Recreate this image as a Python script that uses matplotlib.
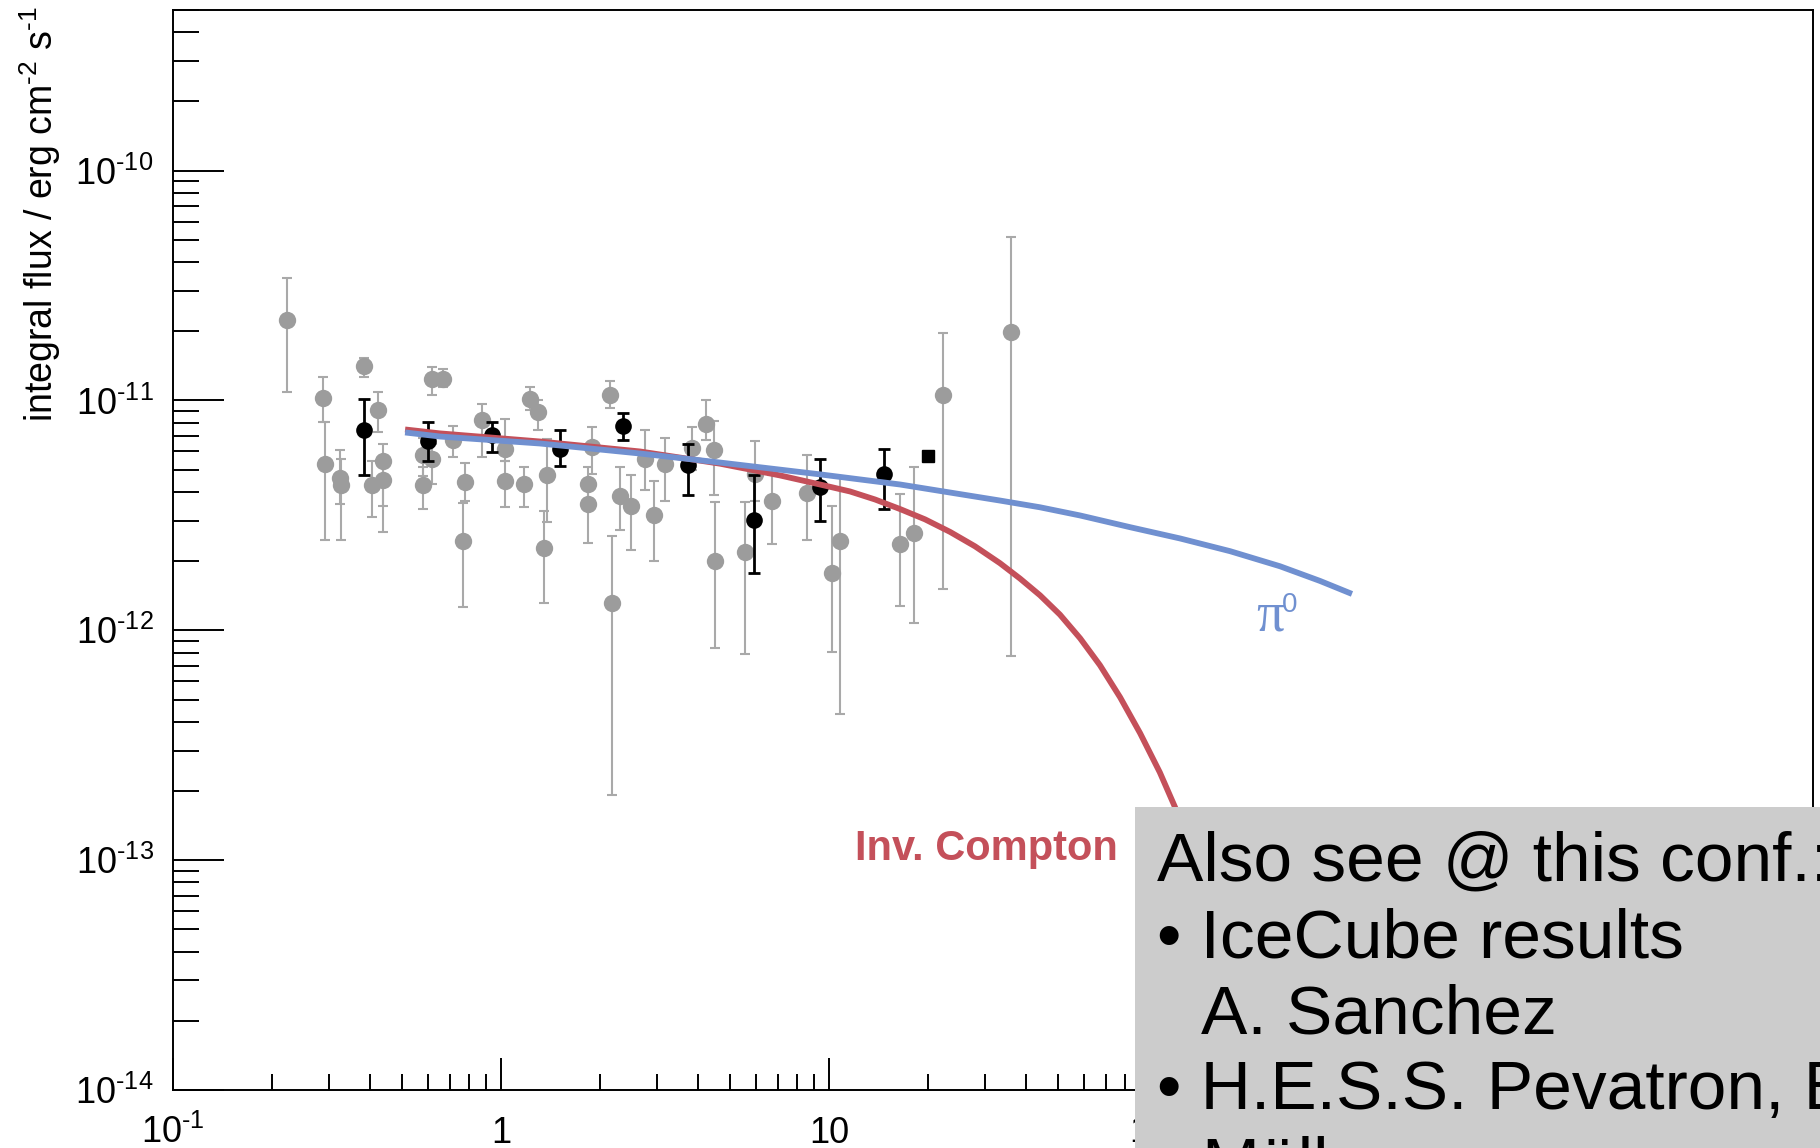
import numpy as np
import matplotlib
matplotlib.use('Agg')
import matplotlib.pyplot as plt
from matplotlib.patches import Rectangle
from matplotlib.ticker import FixedLocator, FixedFormatter, NullFormatter

plt.rcParams['font.family'] = 'Liberation Sans'
plt.rcParams['mathtext.fontset'] = 'custom'
plt.rcParams['mathtext.rm'] = 'Liberation Sans'
plt.rcParams['mathtext.it'] = 'Liberation Sans:italic'
plt.rcParams['mathtext.bf'] = 'Liberation Sans:bold'

# grey points: energy (GeV), integral flux, lower / upper end of the error bar
grey_e = [0.223, 0.287, 0.291, 0.323, 0.325, 0.382, 0.423, 0.438, 0.404, 0.438,
          0.615, 0.667, 0.580, 0.615, 0.577, 0.715, 0.777, 0.768, 0.874, 1.03,
          1.03, 1.175, 1.226, 1.30, 1.384, 1.352, 1.846, 1.846, 1.890, 2.149,
          2.306, 2.485, 2.175, 2.748, 2.934, 3.162, 3.814, 4.217, 4.461, 4.492,
          5.544, 5.948, 6.688, 8.588, 10.19, 10.80, 16.47, 18.20, 22.31, 35.81]
grey_f = [2.23e-11, 1.03e-11, 5.27e-12, 4.62e-12, 4.27e-12, 1.41e-11, 9.11e-12, 5.48e-12, 4.27e-12, 4.49e-12,
          1.24e-11, 1.24e-11, 5.77e-12, 5.58e-12, 4.27e-12, 6.70e-12, 4.41e-12, 2.44e-12, 8.24e-12, 6.17e-12,
          4.46e-12, 4.34e-12, 1.02e-11, 8.89e-12, 4.72e-12, 2.27e-12, 4.31e-12, 3.56e-12, 6.27e-12, 1.06e-11,
          3.86e-12, 3.49e-12, 1.31e-12, 5.58e-12, 3.19e-12, 5.27e-12, 6.23e-12, 7.92e-12, 6.11e-12, 2.01e-12,
          2.19e-12, 4.77e-12, 3.67e-12, 3.94e-12, 1.77e-12, 2.44e-12, 2.37e-12, 2.65e-12, 1.06e-11, 1.98e-11]
grey_lo = [1.09e-11, 8.04e-12, 2.48e-12, 3.56e-12, 2.48e-12, 1.26e-11, 7.28e-12, 3.49e-12, 3.11e-12, 2.68e-12,
           1.06e-11, 1.14e-11, 4.67e-12, 4.35e-12, 3.38e-12, 5.67e-12, 3.67e-12, 1.26e-12, 5.67e-12, 5.48e-12,
           3.44e-12, 3.44e-12, 9.05e-12, 7.41e-12, 2.96e-12, 1.31e-12, 3.67e-12, 2.41e-12, 4.80e-12, 9.30e-12,
           2.72e-12, 2.23e-12, 1.92e-13, 4.09e-12, 2.01e-12, 3.67e-12, 4.96e-12, 6.70e-12, 3.89e-12, 8.41e-13,
           7.92e-13, 3.67e-12, 2.37e-12, 2.48e-12, 8.04e-13, 4.31e-13, 1.28e-12, 1.08e-12, 1.52e-12, 7.71e-13]
grey_hi = [3.42e-11, 1.26e-11, 8.04e-12, 6.06e-12, 5.54e-12, 1.53e-11, 1.09e-11, 6.48e-12, 5.45e-12, 5.32e-12,
           1.40e-11, 1.37e-11, 6.84e-12, 6.48e-12, 5.16e-12, 7.78e-12, 5.34e-12, 3.58e-12, 9.68e-12, 8.33e-12,
           5.48e-12, 5.16e-12, 1.15e-11, 1.00e-11, 6.82e-12, 3.32e-12, 5.16e-12, 4.23e-12, 7.65e-12, 1.21e-11,
           5.16e-12, 4.72e-12, 2.56e-12, 7.41e-12, 4.46e-12, 6.89e-12, 7.65e-12, 1.00e-11, 8.18e-12, 3.61e-12,
           3.61e-12, 6.65e-12, 4.72e-12, 5.77e-12, 3.49e-12, 4.64e-12, 3.90e-12, 5.16e-12, 1.96e-11, 5.16e-11]

# black points
black_e = [0.382, 0.600, 0.937, 1.513, 2.350, 3.724, 5.905, 9.367, 14.75]
black_f = [7.41e-12, 6.65e-12, 7.05e-12, 6.17e-12, 7.78e-12, 5.22e-12, 3.03e-12, 4.20e-12, 4.77e-12]
black_lo = [4.72e-12, 5.48e-12, 5.96e-12, 5.18e-12, 6.75e-12, 3.89e-12, 1.77e-12, 2.98e-12, 3.38e-12]
black_hi = [1.02e-11, 8.04e-12, 8.04e-12, 7.41e-12, 8.84e-12, 6.48e-12, 4.72e-12, 5.54e-12, 6.17e-12]

# single square point
square_e = [20.1]
square_f = [5.71e-12]

# model curves
pi0_e = [0.51, 0.652, 1.315, 2.653, 4.653, 9.39, 16.47, 33.2, 44.0, 58.3,
         82.8, 117.6, 167.0, 237.1, 314.1, 393]
pi0_f = [7.26e-12, 6.97e-12, 6.50e-12, 5.88e-12, 5.37e-12, 4.77e-12, 4.31e-12, 3.67e-12, 3.43e-12, 3.16e-12,
         2.81e-12, 2.51e-12, 2.21e-12, 1.90e-12, 1.64e-12, 1.44e-12]
ic_e = [0.51, 0.652, 1.315, 2.653, 4.653, 7.09, 9.39, 11.59, 13.81, 16.47, 19.62, 23.4,
        27.87, 33.2, 38.22, 44.0, 50.6, 58.3, 67.0, 77.2, 88.8, 102, 113.5, 126.1]
ic_f = [7.48e-12, 7.19e-12, 6.63e-12, 6.00e-12, 5.31e-12, 4.72e-12, 4.31e-12, 4.02e-12, 3.71e-12, 3.37e-12,
        3.04e-12, 2.68e-12, 2.32e-12, 1.96e-12, 1.68e-12, 1.42e-12, 1.17e-12, 9.23e-13, 7.05e-13, 5.11e-13,
        3.57e-13, 2.41e-13, 1.70e-13, 1.16e-13]

xticks = [0.1, 1, 10, 100, 1000, 10000]
xtick_labels = [r'$10^{\text{-1}}$', '1', '10', r'$10^{2}$', r'$10^{3}$', r'$10^{4}$']
yticks = [1e-14, 1e-13, 1e-12, 1e-11, 1e-10]
ytick_labels = [r'$10^{\text{-14}}$', r'$10^{\text{-13}}$', r'$10^{\text{-12}}$',
                r'$10^{\text{-11}}$', r'$10^{\text{-10}}$']

note_lines = ['Also see @ this conf.:', '\u2022 IceCube results', 'A. Sanchez',
              '\u2022 H.E.S.S. Pevatron, E. Moulin', 'M\u00fcller']

W, H = 1820, 1148
fig = plt.figure(figsize=(W / 100, H / 100), dpi=100)
ax = fig.add_axes([173 / W, 58 / H, 1640 / W, 1080 / H])
ax.set_xscale('log')
ax.set_yscale('log')
ax.set_xlim(0.1, 1e4)
ax.set_ylim(1e-14, 5e-10)

gf = np.array(grey_f)
ax.errorbar(grey_e, gf, yerr=[gf - np.array(grey_lo), np.array(grey_hi) - gf],
            fmt='o', ms=12.5, color='#9c9c9c', mec='none', ecolor='#a9a9a9',
            elinewidth=1.5, capsize=3.6, capthick=1.5, zorder=2)

bf = np.array(black_f)
ax.errorbar(black_e, bf, yerr=[bf - np.array(black_lo), np.array(black_hi) - bf],
            fmt='o', ms=12, color='black', mec='none', ecolor='black',
            elinewidth=2.0, capsize=4.2, capthick=2.0, zorder=3)
ax.plot(square_e, square_f, 's', color='black', ms=9, zorder=3)

ax.plot(pi0_e, pi0_f, color='#7090d0', lw=4.2, zorder=5, solid_capstyle='butt',
        solid_joinstyle='round')
ax.plot(ic_e, ic_f, color='#c4505a', lw=4.2, zorder=4, solid_capstyle='butt',
        solid_joinstyle='round')

ax.text(12, 1e-13, 'Inv. Compton', color='#c4505a', fontsize=30, fontweight='bold',
        ha='left', va='baseline')
ax.text(200, 1e-12, '\u03c0', color='#7090d0', fontsize=40, family='Liberation Serif',
        ha='left', va='baseline')
ax.text(240, 1.2e-12, '0', color='#7090d0', fontsize=20, ha='left', va='baseline')

# axes and ticks
for sp in ax.spines.values():
    sp.set_linewidth(1.4)
ax.xaxis.set_major_locator(FixedLocator(xticks))
ax.xaxis.set_major_formatter(FixedFormatter(xtick_labels))
ax.xaxis.set_minor_locator(FixedLocator([m * 10.0 ** k for k in range(-1, 4) for m in range(2, 10)]))
ax.xaxis.set_minor_formatter(NullFormatter())
ax.yaxis.set_major_locator(FixedLocator(yticks))
ax.yaxis.set_major_formatter(FixedFormatter(ytick_labels))
ax.yaxis.set_minor_locator(FixedLocator([m * 10.0 ** k for k in range(-14, -9) for m in range(2, 10)]))
ax.yaxis.set_minor_formatter(NullFormatter())

ax.tick_params(axis='both', which='both', direction='in', top=False, right=False, width=1.4)
ax.tick_params(axis='y', which='major', length=36.5, pad=14, labelsize=26)
ax.tick_params(axis='y', which='minor', length=18.5)
ax.tick_params(axis='x', which='major', length=23, pad=38, labelsize=26)
ax.tick_params(axis='x', which='minor', length=11.5)
for tick in ax.xaxis.get_major_ticks():
    tick.label1.set_verticalalignment('baseline')

fig.text(40 / W, 1 - 6 / H, r'integral flux / erg cm$^{\text{-2}}$ s$^{\text{-1}}$', rotation=90,
         ha='center', va='top', fontsize=27)

# grey note box in the lower right corner
fig.add_artist(Rectangle((1135 / W, 0), (W - 1135) / W, (H - 807) / H, transform=fig.transFigure,
                         facecolor='#cccccc', edgecolor='none', zorder=10))
note_x = [1157, 1157, 1201, 1157, 1201]
note_base = [881, 957, 1033, 1109, 1185]
for txt, x, y in zip(note_lines, note_x, note_base):
    fig.text(x / W, 1 - y / H, txt, fontsize=50, ha='left', va='baseline', zorder=11)

fig.savefig('out.png', dpi=100)
